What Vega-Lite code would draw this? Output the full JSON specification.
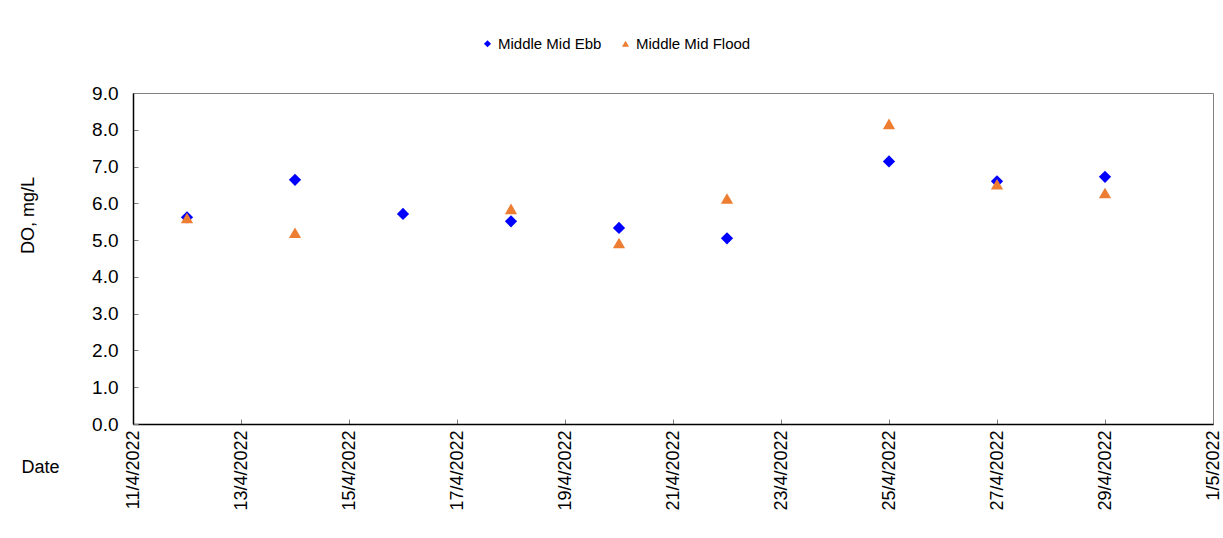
{
  "$schema": "https://vega.github.io/schema/vega-lite/v6.json",
  "width": 1080,
  "height": 331,
  "autosize": {"type": "none"},
  "padding": {"left": 133, "top": 93, "right": 10, "bottom": 114},
  "background": "white",
  "config": {
    "font": "Liberation Sans",
    "view": {"stroke": "#808080", "strokeWidth": 1}
  },
  "data": {
    "values": [
      {"date": "2022-04-12", "series": "Middle Mid Ebb", "DO": 5.62},
      {"date": "2022-04-14", "series": "Middle Mid Ebb", "DO": 6.64},
      {"date": "2022-04-16", "series": "Middle Mid Ebb", "DO": 5.71},
      {"date": "2022-04-18", "series": "Middle Mid Ebb", "DO": 5.51},
      {"date": "2022-04-20", "series": "Middle Mid Ebb", "DO": 5.33},
      {"date": "2022-04-22", "series": "Middle Mid Ebb", "DO": 5.05},
      {"date": "2022-04-25", "series": "Middle Mid Ebb", "DO": 7.14},
      {"date": "2022-04-27", "series": "Middle Mid Ebb", "DO": 6.6},
      {"date": "2022-04-29", "series": "Middle Mid Ebb", "DO": 6.72},
      {"date": "2022-04-12", "series": "Middle Mid Flood", "DO": 5.6},
      {"date": "2022-04-14", "series": "Middle Mid Flood", "DO": 5.2},
      {"date": "2022-04-18", "series": "Middle Mid Flood", "DO": 5.85},
      {"date": "2022-04-20", "series": "Middle Mid Flood", "DO": 4.92},
      {"date": "2022-04-22", "series": "Middle Mid Flood", "DO": 6.13},
      {"date": "2022-04-25", "series": "Middle Mid Flood", "DO": 8.16},
      {"date": "2022-04-27", "series": "Middle Mid Flood", "DO": 6.52},
      {"date": "2022-04-29", "series": "Middle Mid Flood", "DO": 6.28}
    ]
  },
  "mark": {"type": "point", "filled": true, "opacity": 1, "size": 150},
  "encoding": {
    "x": {
      "field": "date",
      "type": "temporal",
      "scale": {
        "type": "utc",
        "domain": [
          {"year": 2022, "month": 4, "date": 11, "utc": true},
          {"year": 2022, "month": 5, "date": 1, "utc": true}
        ]
      },
      "axis": {
        "values": [
          {"year": 2022, "month": 4, "date": 11, "utc": true},
          {"year": 2022, "month": 4, "date": 13, "utc": true},
          {"year": 2022, "month": 4, "date": 15, "utc": true},
          {"year": 2022, "month": 4, "date": 17, "utc": true},
          {"year": 2022, "month": 4, "date": 19, "utc": true},
          {"year": 2022, "month": 4, "date": 21, "utc": true},
          {"year": 2022, "month": 4, "date": 23, "utc": true},
          {"year": 2022, "month": 4, "date": 25, "utc": true},
          {"year": 2022, "month": 4, "date": 27, "utc": true},
          {"year": 2022, "month": 4, "date": 29, "utc": true},
          {"year": 2022, "month": 5, "date": 1, "utc": true}
        ],
        "labelExpr": "utcFormat(datum.value, '%-d/%-m/%Y')",
        "labelAngle": 270,
        "labelFontSize": 18,
        "labelColor": "black",
        "labelPadding": 11,
        "labelOverlap": false,
        "labelFlush": false,
        "tickSize": -5,
        "tickColor": "#808080",
        "domainColor": "black",
        "domainWidth": 1.5,
        "grid": false,
        "title": "Date",
        "titleFontSize": 18,
        "titleFontWeight": "normal",
        "titleColor": "black",
        "titleAngle": 0,
        "titleX": -93,
        "titleY": 43,
        "titleAlign": "center",
        "titleBaseline": "middle"
      }
    },
    "y": {
      "field": "DO",
      "type": "quantitative",
      "scale": {"domain": [0, 9], "nice": false},
      "axis": {
        "values": [0, 1, 2, 3, 4, 5, 6, 7, 8, 9],
        "format": ".1f",
        "labelFontSize": 19,
        "labelColor": "black",
        "labelPadding": 20,
        "tickSize": -5,
        "tickColor": "#808080",
        "domainColor": "black",
        "domainWidth": 1.5,
        "grid": false,
        "title": "DO, mg/L",
        "titleFontSize": 18,
        "titleFontWeight": "normal",
        "titleColor": "black",
        "titleAngle": -90,
        "titleX": -105,
        "titleY": 122,
        "titleAlign": "center",
        "titleBaseline": "middle"
      }
    },
    "color": {
      "field": "series",
      "type": "nominal",
      "scale": {"domain": ["Middle Mid Ebb", "Middle Mid Flood"], "range": ["#0000FF", "#ED7D31"]},
      "legend": {
        "title": null,
        "orient": "none",
        "direction": "horizontal",
        "legendX": 347,
        "legendY": -57,
        "labelFontSize": 15,
        "labelColor": "black",
        "symbolSize": 50,
        "symbolOpacity": 1,
        "columnPadding": 16,
        "labelOffset": 3
      }
    },
    "shape": {
      "field": "series",
      "type": "nominal",
      "scale": {"domain": ["Middle Mid Ebb", "Middle Mid Flood"], "range": ["diamond", "triangle-up"]},
      "legend": null
    }
  }
}
